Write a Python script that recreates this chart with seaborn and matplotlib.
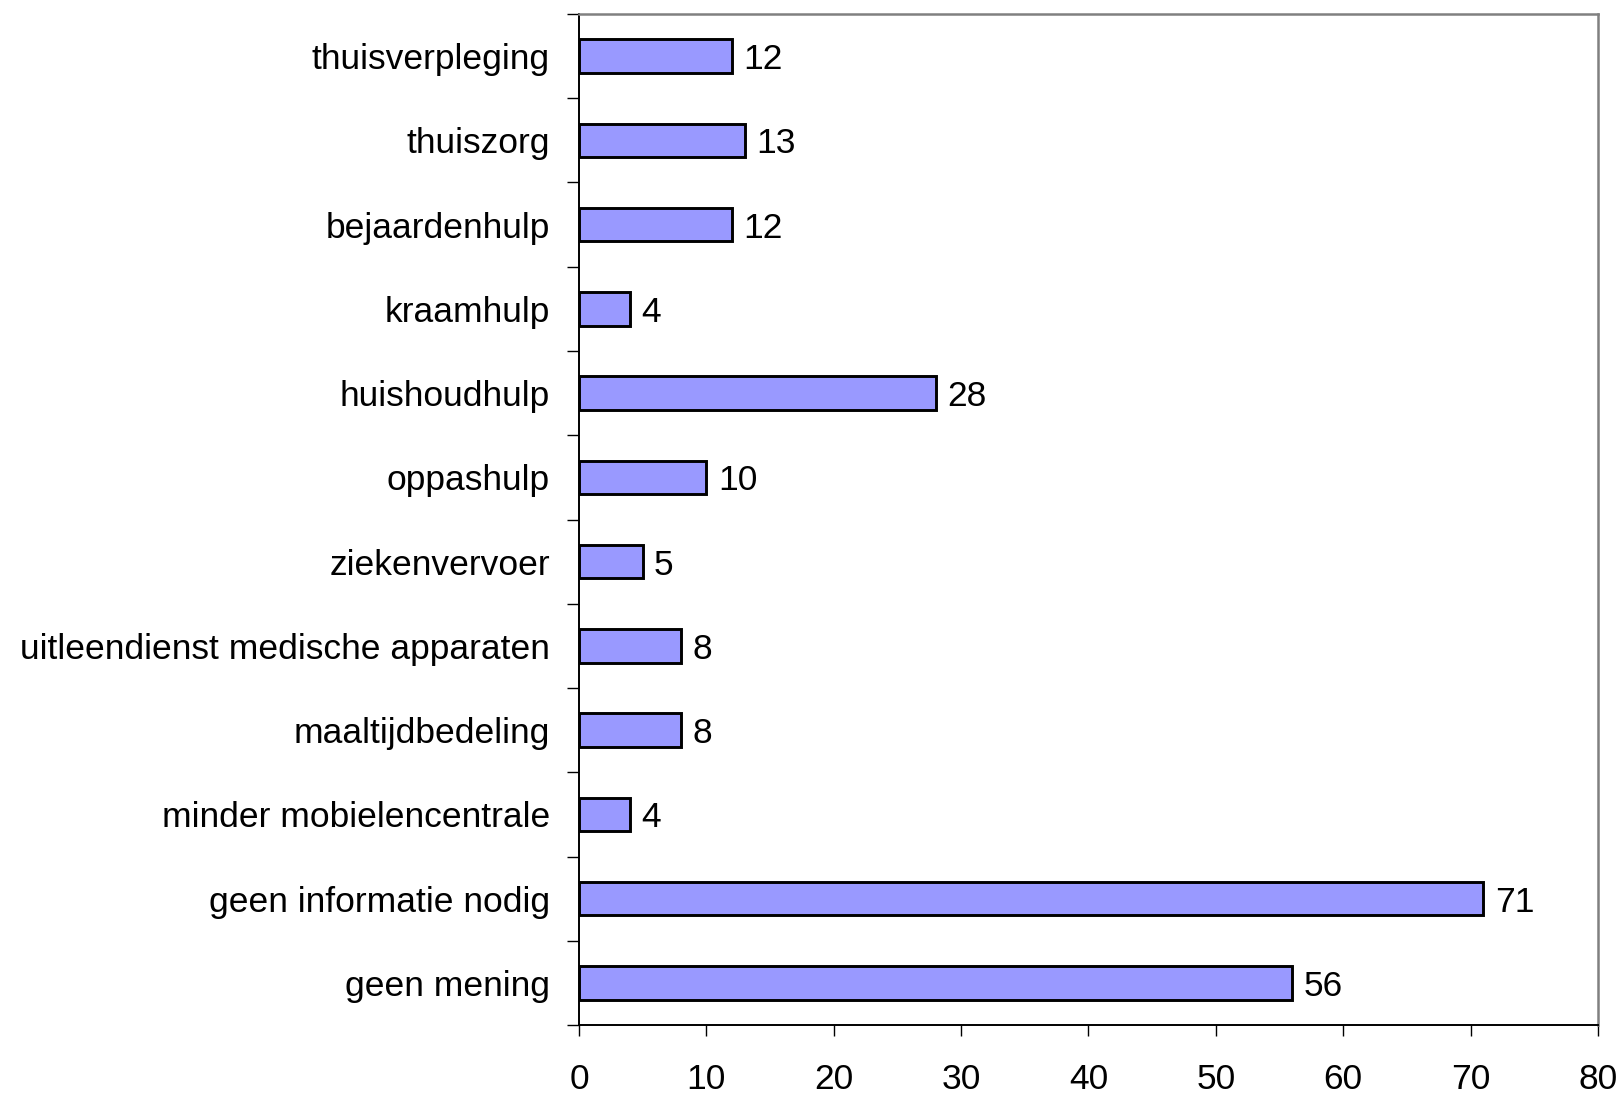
import matplotlib
matplotlib.use("Agg")
import matplotlib.pyplot as plt
import seaborn as sb
import pandas as pd
import numpy as np

categories = ["thuisverpleging", "thuiszorg", "bejaardenhulp", "kraamhulp",
              "huishoudhulp", "oppashulp", "ziekenvervoer",
              "uitleendienst medische apparaten", "maaltijdbedeling",
              "minder mobielencentrale", "geen informatie nodig", "geen mening"]
counts = [12, 13, 12, 4, 28, 10, 5, 8, 8, 4, 71, 56]
xticks = [0, 10, 20, 30, 40, 50, 60, 70, 80]

df = pd.DataFrame({"categorie": categories, "aantal": counts})

sb.set_style("white")
plt.rcParams['font.family'] = ['Liberation Sans', 'DejaVu Sans']
plt.rcParams['text.color'] = 'black'
plt.rcParams['xtick.color'] = 'black'
plt.rcParams['ytick.color'] = 'black'

fs = 25.5

fig = plt.figure(figsize=(16.19, 10.93), dpi=100)
ax = fig.add_axes([0.3576, 0.0622, 0.987 - 0.3576, 0.9872 - 0.0622])

sb.barplot(data=df, x="aantal", y="categorie", orient="h", ax=ax,
           color="#9999FF", saturation=1, width=0.4,
           edgecolor="black", linewidth=2.1)

for i, v in enumerate(counts):
    ax.text(v + 0.9, i, str(v), va="center_baseline", ha="left", fontsize=fs)

ax.set_xlim(0, 80)
ax.set_ylim(len(categories) - 0.5, -0.5)
ax.set_xticks(xticks)
ax.set_xticklabels([str(t) for t in xticks], fontsize=fs)
ax.set_xlabel("")
ax.set_ylabel("")

# labels centred on bars, tick marks on category boundaries
ax.set_yticks(range(len(categories)))
ax.set_yticklabels(categories, fontsize=fs, va="center_baseline")
ax.set_yticks(np.arange(-0.5, len(categories), 1), minor=True)
ax.tick_params(axis="y", which="major", length=0, pad=21)
ax.tick_params(axis="y", which="minor", length=8.5, width=1, direction="out", left=True)
ax.tick_params(axis="x", length=8, width=1, direction="out", pad=19, bottom=True)

for side in ["left", "bottom"]:
    ax.spines[side].set_color("black")
    ax.spines[side].set_linewidth(1.4)
for side in ["top", "right"]:
    ax.spines[side].set_color("#808080")
    ax.spines[side].set_linewidth(1.8)

fig.savefig("out.png", dpi=100)
